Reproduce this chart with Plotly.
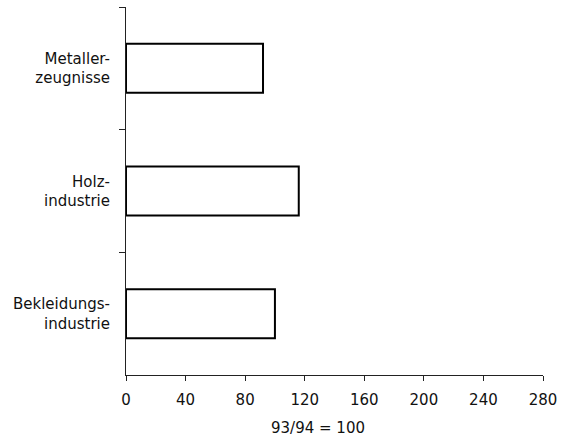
import plotly.graph_objects as go

# Index values (93/94 = 100) per industry
categories = ["Metaller-<br>zeugnisse", "Holz-<br>industrie", "Bekleidungs-<br>industrie"]
values = [92, 116, 100]
x_ticks = [0, 40, 80, 120, 160, 200, 240, 280]
x_title = "93/94 = 100"

FONT = "'DejaVu Sans', sans-serif"
TEXT = "#111"
SIZE = 15

fig = go.Figure(
    go.Bar(
        x=values,
        y=categories,
        orientation="h",
        width=0.4,
        marker=dict(color="white", line=dict(color="black", width=2)),
        hoverinfo="x+y",
    )
)

fig.update_layout(
    width=566,
    height=441,
    margin=dict(l=126, r=23, t=7, b=66),
    paper_bgcolor="white",
    plot_bgcolor="white",
    font=dict(family=FONT, size=SIZE, color=TEXT),
    showlegend=False,
    annotations=[
        dict(
            text=x_title,
            xref="paper",
            yref="paper",
            x=0.46,
            y=0,
            yshift=-53,
            showarrow=False,
            xanchor="center",
            yanchor="middle",
            font=dict(family=FONT, size=SIZE, color=TEXT),
        )
    ],
)

fig.update_xaxes(
    range=[0, 280],
    tickvals=x_ticks,
    ticktext=[str(v) for v in x_ticks],
    showgrid=False,
    zeroline=False,
    showline=True,
    linecolor="#222",
    linewidth=1,
    ticks="outside",
    ticklen=5,
    tickcolor="#222",
    ticklabelstandoff=6,
    tickfont=dict(family=FONT, size=SIZE, color=TEXT),
)

fig.update_yaxes(
    type="category",
    categoryorder="array",
    categoryarray=categories,
    autorange="reversed",
    tickson="boundaries",
    showgrid=False,
    zeroline=False,
    showline=True,
    linecolor="#222",
    linewidth=1,
    ticks="outside",
    ticklen=6,
    tickcolor="#222",
    ticklabelstandoff=12,
    tickfont=dict(family=FONT, size=SIZE, color=TEXT),
)

fig.write_html("out.html")
